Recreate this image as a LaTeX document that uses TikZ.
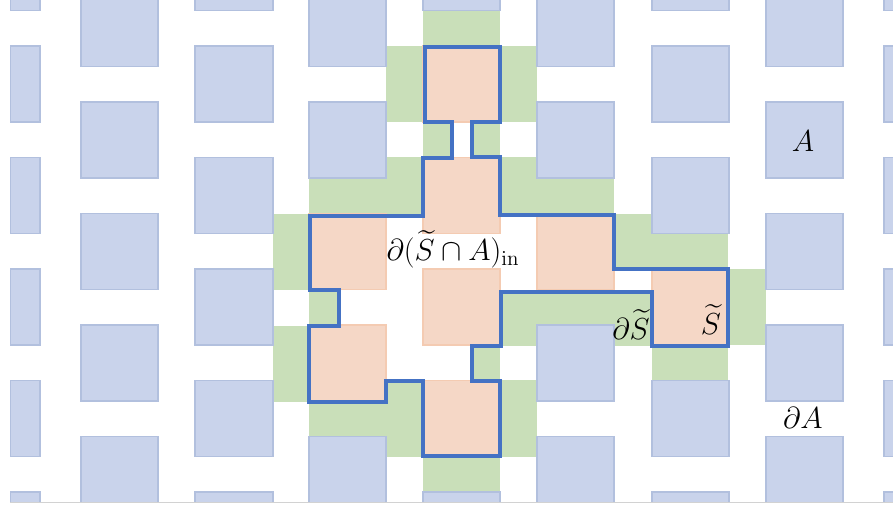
\documentclass[tikz,border=0pt]{standalone}
\usepackage{amsmath}
\usepackage{tikz}
\usetikzlibrary{positioning}
\definecolor{cellblue}{HTML}{C9D3EB}
\definecolor{cellblueline}{HTML}{B2C0DE}
\definecolor{cellorange}{HTML}{F5D7C6}
\definecolor{cellorangeline}{HTML}{F4CBB2}
\definecolor{stripgreen}{HTML}{C9DFB9}
\definecolor{outlineblue}{HTML}{4472C4}
\tikzset{
  bluecell/.style={fill=cellblue, draw=cellblueline, line width=0.6pt},
  orangecell/.style={fill=cellorange, draw=cellorangeline, line width=0.6pt},
  greenstrip/.style={fill=stripgreen}
}
\tikzset{
  boundaryline/.style={draw=outlineblue, line width=2.2pt},
  mathlabel/.style={font=\fontsize{17.28}{21}\selectfont, inner sep=0pt, anchor=base}
}

\begin{document}
\begin{tikzpicture}[x=0.02cm, y=-0.02cm]
  \useasboundingbox (0,0) rectangle (893,507);
  \begin{scope}
    \clip (10,0) rectangle (893,502);
    % strip around the set
    \foreach \xa/\ya/\xb/\yb in {423/10/500/46, 386/46/423/122, 500/46/537/122,
        423/122/452/157, 472/122/500/157, 309/157/423/214, 500/157/614/214,
        273/214/309/290, 309/290/339/326, 273/326/309/402, 309/381/423/457,
        423/457/500/492, 500/380/537/457, 472/346/500/380, 500/292/652/346,
        614/214/728/269, 728/269/766/345, 652/345/728/380}
      \fill[greenstrip] (\xa,\ya) rectangle (\xb,\yb);
    % lattice of A
    \foreach \xa/\xb/\sh in {10/40/0, 81/158/1, 195/273/0, 309/386/1, 423/500/0,
        537/614/1, 652/729/0, 766/843/1, 884/900/0}
      \foreach \j in {0,...,5}{
        \pgfmathsetmacro{\ya}{46+111.5*(\j-1)+56*\sh}
        \path[bluecell] (\xa,\ya) rectangle (\xb,\ya+76);
      }
    % cells of S inside A
    \foreach \xa/\ya in {423/46, 423/157.5, 423/269, 423/380.5, 652/269,
        309/213.5, 309/325, 537/213.5}
      \path[orangecell] (\xa,\ya) rectangle (\xa+77,\ya+76);
  \end{scope}
  \draw[gray!35] (10,502) -- (893,502);
  % boundary of S
  \draw[boundaryline] (425,47) -- (500,47) -- (500,122) -- (472,122) -- (472,157)
    -- (500,157) -- (500,215) -- (614,215) -- (614,269) -- (728,269) -- (728,346)
    -- (652,346) -- (652,292) -- (501,292) -- (501,346) -- (472,346) -- (472,381)
    -- (500,381) -- (500,456) -- (423,456) -- (423,381) -- (386,381) -- (386,402)
    -- (309,402) -- (309,326) -- (339,326) -- (339,290) -- (310,290) -- (310,216)
    -- (423,216) -- (423,158) -- (452,158) -- (452,122) -- (425,122) -- cycle;
  \node[mathlabel] (labA) at (803,151) {$A$};
  \node[mathlabel] (labdA) at (803,428) {$\partial A$};
  \node[mathlabel] (labin) at (453,260.5) {$\partial(\widetilde{S}\cap A)_{\mathrm{in}}$};
  \node[mathlabel] (labdS) at (631,339) {$\partial\widetilde{S}$};
  \node[mathlabel] (labS) at (711,334) {$\widetilde{S}$};
\end{tikzpicture}
\end{document}
